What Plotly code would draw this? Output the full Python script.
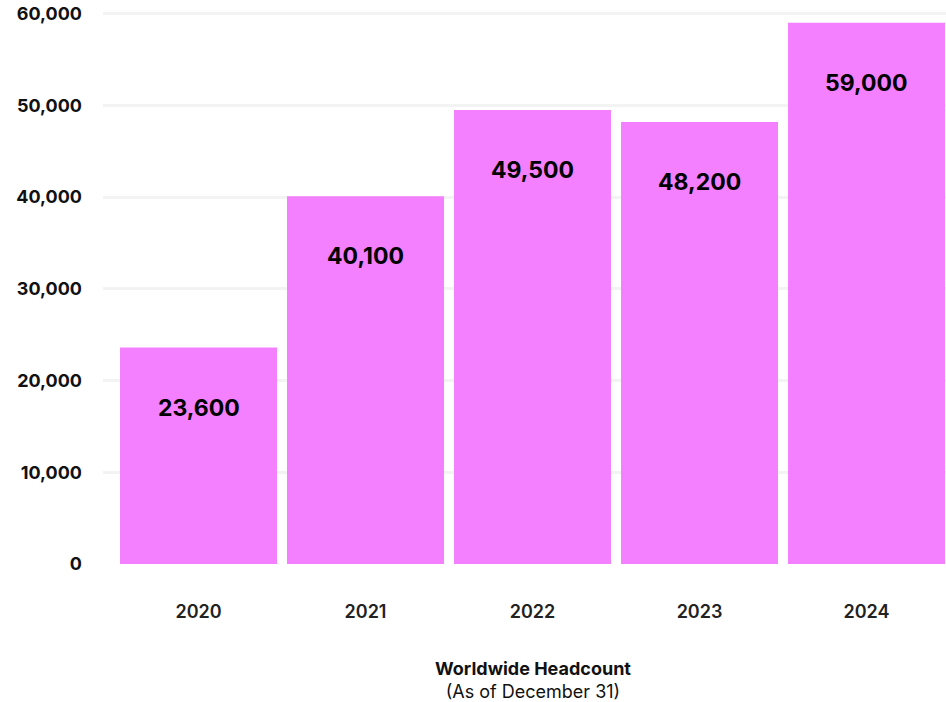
import plotly.graph_objects as go

years = ["2020", "2021", "2022", "2023", "2024"]
headcount = [23600, 40100, 49500, 48200, 59000]
labels = ["23,600", "40,100", "49,500", "48,200", "59,000"]
y_ticks = [0, 10000, 20000, 30000, 40000, 50000, 60000]
y_tick_text = ["0", "10,000", "20,000", "30,000", "40,000", "50,000", "60,000"]

FONT = "Inter"
xpos = list(range(len(years)))

fig = go.Figure()
fig.add_trace(go.Bar(
    x=xpos, y=headcount,
    marker=dict(color="#F47FFF", line=dict(width=0)),
    hoverinfo="skip",
))

for xi, v, t in zip(xpos, headcount, labels):
    fig.add_annotation(x=xi, y=v, xref="x", yref="y", text=t, showarrow=False,
                       yanchor="middle", yshift=-60,
                       font=dict(family=FONT, size=23, color="#000000", weight=700))

fig.add_annotation(x=2, xref="x", y=-0.166, yref="paper",
                   text="<b>Worldwide Headcount</b><br>(As of December 31)",
                   showarrow=False, yanchor="top",
                   font=dict(family=FONT, size=18, color="#111111"))

fig.update_layout(
    width=946, height=702,
    margin=dict(l=103, r=0, t=10, b=138),
    paper_bgcolor="white", plot_bgcolor="white",
    bargap=0.06, showlegend=False,
    xaxis=dict(range=[-0.572, 4.476], tickmode="array", tickvals=xpos, ticktext=years,
               showgrid=False, zeroline=False, showline=False, ticks="",
               ticklabelstandoff=35,
               tickfont=dict(family=FONT, size=18, color="#222222", weight=600)),
    yaxis=dict(range=[0, 60400], tickmode="array", tickvals=y_ticks, ticktext=y_tick_text,
               showgrid=True, gridcolor="#F3F3F3", gridwidth=3, zeroline=False,
               showline=False, ticks="", ticklabelstandoff=20, ticklabeloverflow="allow",
               tickfont=dict(family=FONT, size=18, color="#111111", weight=700)),
)

fig.write_html("out.html", config={"displayModeBar": False},
               post_script="document.body.style.margin='0px';")
